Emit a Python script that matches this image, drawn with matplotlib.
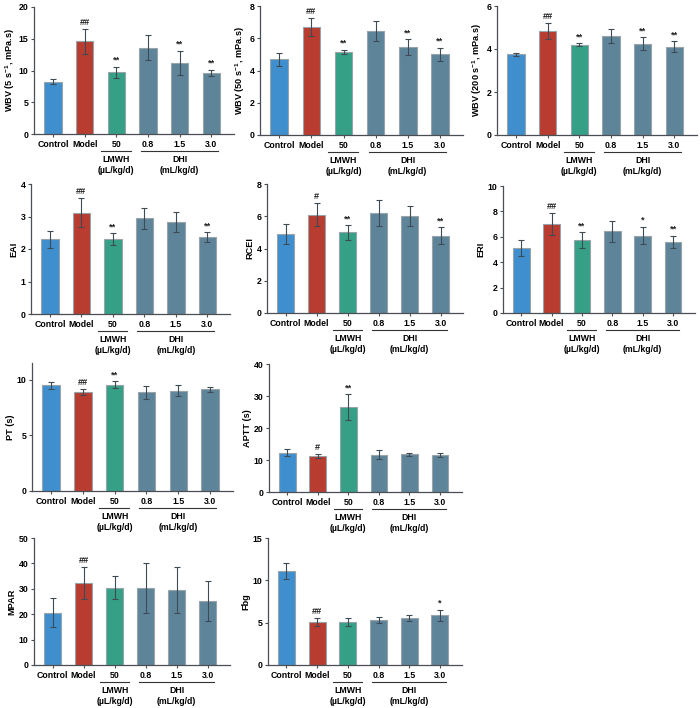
import matplotlib
matplotlib.use("Agg")
import matplotlib.pyplot as plt
from matplotlib import transforms
import numpy as np

plt.rcParams['font.family'] = ['Liberation Sans', 'DejaVu Sans']
plt.rcParams['font.weight'] = 'bold'
plt.rcParams['axes.labelweight'] = 'bold'
plt.rcParams['mathtext.fontset'] = 'custom'
plt.rcParams['mathtext.rm'] = 'Liberation Sans:bold'
plt.rcParams['mathtext.bf'] = 'Liberation Sans:bold'
plt.rcParams['mathtext.default'] = 'rm'

groups = ["Control", "Model", "50", "0.8", "1.5", "3.0"]
colors = ["#3f8fcf", "#b83c30", "#35a086", "#5e8499", "#5e8499", "#5e8499"]

wbv5_mean = [8.2, 14.6, 9.7, 13.6, 11.2, 9.6]
wbv5_err = [0.4, 2.0, 0.9, 2.0, 1.9, 0.5]
wbv5_sig = ["", "##", "**", "", "**", "**"]

wbv50_mean = [4.7, 6.7, 5.15, 6.45, 5.45, 5.0]
wbv50_err = [0.4, 0.58, 0.15, 0.6, 0.5, 0.4]
wbv50_sig = ["", "##", "**", "", "**", "**"]

wbv200_mean = [3.75, 4.85, 4.2, 4.6, 4.25, 4.1]
wbv200_err = [0.08, 0.37, 0.06, 0.33, 0.3, 0.25]
wbv200_sig = ["", "##", "**", "", "**", "**"]

eai_mean = [2.3, 3.12, 2.3, 2.95, 2.83, 2.37]
eai_err = [0.26, 0.45, 0.19, 0.32, 0.31, 0.15]
eai_sig = ["", "##", "**", "", "", "**"]

rcei_mean = [4.9, 6.1, 5.0, 6.2, 6.0, 4.8]
rcei_err = [0.65, 0.7, 0.45, 0.82, 0.62, 0.53]
rcei_sig = ["", "#", "**", "", "", "**"]

eri_mean = [5.15, 7.0, 5.75, 6.45, 6.1, 5.62]
eri_err = [0.63, 0.88, 0.6, 0.83, 0.7, 0.47]
eri_sig = ["", "##", "**", "", "*", "**"]

pt_mean = [9.5, 8.9, 9.55, 8.85, 9.0, 9.15]
pt_err = [0.32, 0.28, 0.32, 0.55, 0.48, 0.22]
pt_sig = ["", "##", "**", "", "", ""]

aptt_mean = [12.3, 11.2, 26.5, 11.7, 11.8, 11.6]
aptt_err = [1.0, 0.7, 4.0, 1.4, 0.5, 0.7]
aptt_sig = ["", "#", "**", "", "", ""]

mpar_mean = [20.5, 32.3, 30.4, 30.2, 29.5, 25.2]
mpar_err = [5.7, 6.3, 4.5, 9.8, 8.9, 7.7]
mpar_sig = ["", "##", "", "", "", ""]

fbg_mean = [11.1, 5.1, 5.05, 5.35, 5.55, 5.9]
fbg_err = [0.9, 0.5, 0.45, 0.35, 0.4, 0.65]
fbg_sig = ["", "##", "", "", "", "*"]

W, H = 700, 708
fig = plt.figure(figsize=(7.0, 7.08), dpi=100)

FS = 6.3
AXC = "#4a4f55"


def panel(box, mean, err, sig, ylabel, ymax, yticks):
    x0, x1, yt, yb = box
    ax = fig.add_axes([x0 / W, 1 - yb / H, (x1 - x0) / W, (yb - yt) / H])
    x = np.arange(len(groups))
    ax.bar(x, mean, width=0.55, color=colors, edgecolor="#98a4aa", linewidth=0.8, zorder=2)
    ax.errorbar(x, mean, yerr=err, fmt="none", ecolor="#3e4b55", elinewidth=0.8,
                capsize=2.4, capthick=0.8, zorder=3)
    for xi, m, e, s in zip(x, mean, err, sig):
        if s:
            ax.text(xi, m + e + ymax * 0.015, s, ha="center", va="bottom", fontsize=6.6, color="#222222")
    ax.set_xlim(-0.6, 5.72)
    ax.set_ylim(0, ymax)
    ax.set_yticks(yticks)
    ax.set_xticks(x)
    ax.set_xticklabels(groups)
    for sp in ["top", "right"]:
        ax.spines[sp].set_visible(False)
    for sp in ["left", "bottom"]:
        ax.spines[sp].set_color(AXC)
        ax.spines[sp].set_linewidth(0.9)
    ax.tick_params(axis="both", length=2.5, width=0.8, color=AXC, labelsize=FS, pad=1.5)
    ax.set_ylabel(ylabel, fontsize=6.6, fontweight="bold", labelpad=1.5)

    # group brackets below the tick labels
    base = transforms.blended_transform_factory(ax.transData, ax.transAxes)
    line_tr = transforms.offset_copy(base, fig=fig, x=0, y=-17, units="dots")
    ax.plot([1.52, 2.45], [0, 0], color="#333333", lw=0.8, transform=line_tr, clip_on=False)
    ax.plot([2.78, 5.2], [0, 0], color="#333333", lw=0.8, transform=line_tr, clip_on=False)
    ax.annotate("LMWH\n(µL/kg/d)", xy=(2.0, 0), xycoords=base, xytext=(0, -21),
                textcoords="offset pixels", ha="center", va="top", fontsize=FS, linespacing=1.25)
    ax.annotate("DHI\n(mL/kg/d)", xy=(4.0, 0), xycoords=base, xytext=(0, -21),
                textcoords="offset pixels", ha="center", va="top", fontsize=FS, linespacing=1.25)
    return ax


panel((34, 234, 7, 134), wbv5_mean, wbv5_err, wbv5_sig, "WBV (5 s$^{-1}$, mPa.s)", 20, [0, 5, 10, 15, 20])
panel((260, 463, 6, 135), wbv50_mean, wbv50_err, wbv50_sig, "WBV (50 s$^{-1}$, mPa.s)", 8, [0, 2, 4, 6, 8])
panel((497, 697, 6, 135), wbv200_mean, wbv200_err, wbv200_sig, "WBV (200 s$^{-1}$, mPa.s)", 6, [0, 2, 4, 6])
panel((31, 230, 184, 314), eai_mean, eai_err, eai_sig, "EAI", 4, [0, 1, 2, 3, 4])
panel((267, 463, 184, 313), rcei_mean, rcei_err, rcei_sig, "RCEI", 8, [0, 2, 4, 6, 8])
panel((503, 695, 186, 313), eri_mean, eri_err, eri_sig, "ERI", 10, [0, 2, 4, 6, 8, 10])
panel((32, 233, 363, 491), pt_mean, pt_err, pt_sig, "PT (s)", 11.5, [0, 5, 10])
panel((269, 462, 364, 492), aptt_mean, aptt_err, aptt_sig, "APTT (s)", 40, [0, 10, 20, 30, 40])
panel((34, 230, 538, 665), mpar_mean, mpar_err, mpar_sig, "MPAR", 50, [0, 10, 20, 30, 40, 50])
panel((268, 462, 538, 665), fbg_mean, fbg_err, fbg_sig, "Fbg", 15, [0, 5, 10, 15])

fig.savefig("out.png", dpi=100)
